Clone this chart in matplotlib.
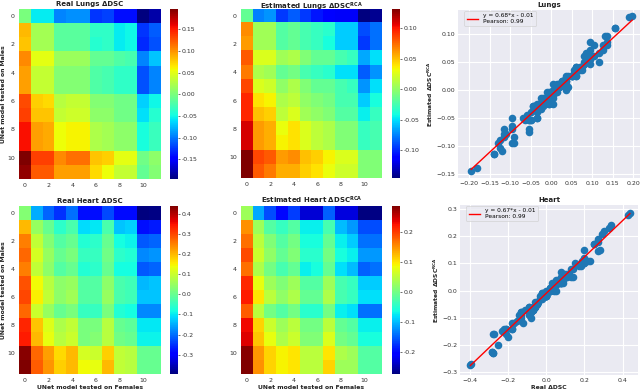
import numpy as np
import matplotlib
matplotlib.use("Agg")
import matplotlib.pyplot as plt

W, H = 640, 391

real_lungs = np.array([
    [0.00, -0.055, -0.055, -0.095, -0.09, -0.09, -0.125, -0.12, -0.14, -0.14, -0.195, -0.18],
    [0.085, 0.02, 0.02, -0.015, -0.015, -0.015, -0.035, -0.035, -0.055, -0.05, -0.125, -0.11],
    [0.08, 0.02, 0.02, -0.015, -0.015, -0.015, -0.04, -0.035, -0.055, -0.05, -0.13, -0.115],
    [0.105, 0.05, 0.05, 0.015, 0.015, 0.015, -0.01, -0.01, -0.02, -0.025, -0.095, -0.07],
    [0.095, 0.035, 0.035, 0.005, 0.005, 0.005, -0.02, -0.025, -0.035, -0.035, -0.115, -0.095],
    [0.095, 0.035, 0.035, 0.005, 0.005, 0.005, -0.02, -0.025, -0.035, -0.035, -0.115, -0.095],
    [0.13, 0.075, 0.07, 0.03, 0.035, 0.035, 0.005, 0.005, -0.005, -0.005, -0.065, -0.05],
    [0.135, 0.08, 0.08, 0.035, 0.04, 0.04, 0.01, 0.01, -0.005, -0.005, -0.06, -0.04],
    [0.155, 0.095, 0.09, 0.055, 0.06, 0.06, 0.025, 0.02, 0.01, 0.01, -0.045, -0.03],
    [0.155, 0.095, 0.09, 0.055, 0.06, 0.06, 0.025, 0.02, 0.01, 0.01, -0.045, -0.03],
    [0.197, 0.135, 0.135, 0.105, 0.115, 0.115, 0.08, 0.075, 0.05, 0.05, -0.005, 0.01],
    [0.19, 0.125, 0.125, 0.095, 0.095, 0.095, 0.07, 0.055, 0.035, 0.035, -0.01, 0.005],
])
est_lungs = np.array([
    [-0.015, -0.075, -0.07, -0.095, -0.085, -0.095, -0.105, -0.11, -0.115, -0.115, -0.145, -0.14],
    [0.065, 0.005, 0.005, -0.02, -0.015, -0.025, -0.03, -0.035, -0.055, -0.055, -0.09, -0.08],
    [0.06, 0.005, 0.005, -0.02, -0.015, -0.025, -0.03, -0.04, -0.055, -0.055, -0.095, -0.08],
    [0.08, 0.025, 0.025, 0.005, 0.01, -0.005, -0.015, -0.015, -0.025, -0.03, -0.065, -0.05],
    [0.07, 0.01, 0.005, -0.015, -0.01, -0.025, -0.03, -0.035, -0.05, -0.05, -0.085, -0.07],
    [0.085, 0.025, 0.02, 0.0, 0.01, -0.005, -0.015, -0.015, -0.025, -0.03, -0.07, -0.05],
    [0.095, 0.04, 0.035, 0.01, 0.015, 0.0, -0.005, -0.01, -0.025, -0.025, -0.055, -0.04],
    [0.095, 0.05, 0.045, 0.015, 0.025, 0.005, 0.0, -0.005, -0.02, -0.02, -0.045, -0.03],
    [0.11, 0.06, 0.055, 0.03, 0.04, 0.025, 0.015, 0.01, -0.005, -0.005, -0.03, -0.025],
    [0.11, 0.06, 0.055, 0.035, 0.04, 0.025, 0.015, 0.01, -0.005, -0.005, -0.03, -0.025],
    [0.131, 0.085, 0.08, 0.06, 0.065, 0.05, 0.045, 0.035, 0.025, 0.025, -0.005, -0.005],
    [0.13, 0.08, 0.07, 0.055, 0.055, 0.045, 0.04, 0.03, 0.02, 0.02, -0.005, -0.005],
])
real_heart = np.array([
    [0.03, -0.15, -0.21, -0.25, -0.2, -0.28, -0.28, -0.23, -0.285, -0.285, -0.396, -0.39],
    [0.2, 0.05, 0.0, -0.06, -0.03, -0.11, -0.1, -0.03, -0.13, -0.12, -0.28, -0.27],
    [0.25, 0.09, 0.03, -0.02, 0.0, -0.07, -0.06, 0.0, -0.08, -0.09, -0.22, -0.21],
    [0.27, 0.11, 0.05, 0.0, 0.02, -0.05, -0.05, 0.01, -0.06, -0.07, -0.18, -0.17],
    [0.25, 0.09, 0.04, -0.02, 0.0, -0.07, -0.06, 0.0, -0.08, -0.08, -0.22, -0.21],
    [0.29, 0.14, 0.08, 0.04, 0.05, -0.02, -0.02, 0.04, -0.03, -0.04, -0.14, -0.13],
    [0.3, 0.15, 0.09, 0.04, 0.06, -0.02, -0.02, 0.05, -0.03, -0.04, -0.13, -0.13],
    [0.27, 0.1, 0.05, 0.0, 0.02, -0.05, -0.05, 0.02, -0.07, -0.08, -0.18, -0.18],
    [0.33, 0.19, 0.12, 0.07, 0.09, 0.02, 0.02, 0.08, 0.0, -0.01, -0.1, -0.1],
    [0.34, 0.2, 0.13, 0.08, 0.1, 0.02, 0.03, 0.08, 0.01, 0.0, -0.09, -0.09],
    [0.43, 0.27, 0.22, 0.17, 0.2, 0.11, 0.1, 0.18, 0.09, 0.08, 0.0, 0.0],
    [0.438, 0.28, 0.23, 0.18, 0.2, 0.14, 0.13, 0.2, 0.09, 0.08, 0.0, 0.0],
])
est_heart = np.array([
    [0.03, -0.11, -0.16, -0.2, -0.17, -0.23, -0.23, -0.15, -0.225, -0.225, -0.273, -0.27],
    [0.15, 0.03, -0.02, -0.04, -0.02, -0.07, -0.07, -0.03, -0.1, -0.12, -0.16, -0.16],
    [0.17, 0.05, 0.01, -0.02, 0.0, -0.06, -0.06, -0.01, -0.07, -0.09, -0.14, -0.14],
    [0.19, 0.06, 0.02, -0.01, 0.01, -0.05, -0.05, 0.0, -0.06, -0.07, -0.12, -0.12],
    [0.17, 0.04, 0.0, -0.03, -0.01, -0.07, -0.06, -0.01, -0.08, -0.1, -0.15, -0.14],
    [0.21, 0.08, 0.03, 0.01, 0.03, -0.02, -0.02, 0.03, -0.03, -0.04, -0.09, -0.09],
    [0.22, 0.1, 0.05, 0.02, 0.04, -0.01, -0.01, 0.04, -0.03, -0.04, -0.08, -0.08],
    [0.18, 0.05, 0.0, -0.02, 0.0, -0.05, -0.05, 0.0, -0.07, -0.08, -0.14, -0.14],
    [0.23, 0.11, 0.06, 0.03, 0.05, 0.0, 0.0, 0.05, -0.01, -0.02, -0.07, -0.07],
    [0.24, 0.12, 0.08, 0.04, 0.06, 0.01, 0.01, 0.07, 0.0, -0.01, -0.06, -0.06],
    [0.28, 0.145, 0.11, 0.09, 0.1, 0.05, 0.05, 0.1, 0.04, 0.03, -0.02, -0.02],
    [0.286, 0.15, 0.11, 0.09, 0.1, 0.05, 0.05, 0.11, 0.03, 0.03, -0.02, -0.02],
])

cell_ticks = [0, 2, 4, 6, 8, 10]
lungs_real_cbar = [-0.15, -0.10, -0.05, 0.00, 0.05, 0.10, 0.15]
lungs_est_cbar = [-0.10, -0.05, 0.00, 0.05, 0.10]
heart_real_cbar = [-0.3, -0.2, -0.1, 0.0, 0.1, 0.2, 0.3, 0.4]
heart_est_cbar = [-0.2, -0.1, 0.0, 0.1, 0.2]
lungs_xticks = [-0.20, -0.15, -0.10, -0.05, 0.00, 0.05, 0.10, 0.15, 0.20]
lungs_yticks = [-0.15, -0.10, -0.05, 0.00, 0.05, 0.10]
heart_xticks = [-0.4, -0.2, 0.0, 0.2, 0.4]
heart_yticks = [-0.3, -0.2, -0.1, 0.0, 0.1, 0.2, 0.3]

EST_LABEL = r"Estimated $\mathbf{\Delta DSC^{RCA}}$"
TEXT = "#333333"


def px_axes(fig, left, top, right, bottom):
    # Axes placed by pixel edges, y measured from the top of the picture
    return fig.add_axes([left / W, 1 - bottom / H, (right - left) / W, (bottom - top) / H])


def draw_heatmap(fig, data, box, cbox, title, ticks, fmt, ylabel=None, xlabel=None, title_pad=2):
    ax = px_axes(fig, *box)
    im = ax.imshow(data, cmap="jet", aspect="auto", interpolation="nearest")
    ax.set_xticks(cell_ticks)
    ax.set_yticks(cell_ticks)
    ax.tick_params(length=0, labelsize=4.5, pad=3, labelcolor=TEXT)
    for s in ax.spines.values():
        s.set_visible(False)
    if title:
        ax.set_title(title, fontsize=5, fontweight="bold", pad=title_pad, color="#222222")
    if ylabel:
        ax.set_ylabel(ylabel, fontsize=4.4, fontweight="bold", labelpad=1, color="#222222")
    if xlabel:
        ax.set_xlabel(xlabel, fontsize=4.4, fontweight="bold", labelpad=1.5, color="#222222")
    cax = px_axes(fig, *cbox)
    cb = fig.colorbar(im, cax=cax, ticks=ticks, format=fmt)
    cb.ax.tick_params(labelsize=4.5, length=1.5, width=0.4, pad=1, labelcolor=TEXT)
    cb.outline.set_visible(False)


def draw_scatter(fig, real, est, box, title, a, b, label, xlim, ylim, xticks, yticks, fmt, xlabel=None):
    ax = px_axes(fig, *box)
    ax.set_facecolor("#EAEAF2")
    ax.grid(True, color="white", linewidth=0.8)
    ax.set_axisbelow(True)
    for s in ax.spines.values():
        s.set_visible(False)
    x = real.ravel()
    ax.scatter(x, est.ravel(), s=30, color="#1F77B4", linewidths=0, zorder=2)
    line_x = np.array([x.min(), x.max()])
    ax.plot(line_x, a * line_x + b, color="red", linewidth=1, zorder=3, label=label)
    ax.set_xlim(*xlim)
    ax.set_ylim(*ylim)
    ax.set_xticks(xticks)
    ax.set_yticks(yticks)
    ax.xaxis.set_major_formatter(fmt)
    ax.yaxis.set_major_formatter(fmt)
    ax.tick_params(length=0, labelsize=4.5, pad=2, labelcolor=TEXT)
    ax.set_title(title, fontsize=5, fontweight="bold", pad=2, color="#222222")
    ax.set_ylabel(EST_LABEL, fontsize=4.3, fontweight="bold", labelpad=1, color="#222222")
    if xlabel:
        ax.set_xlabel(xlabel, fontsize=4.4, fontweight="bold", labelpad=1.5, color="#222222")
    leg = ax.legend(loc="upper left", bbox_to_anchor=(0.035, 0.995), borderaxespad=0, fontsize=4.2,
                    frameon=True, facecolor="#EAEAF2", edgecolor="#CCCCCC", framealpha=0.8)
    leg.get_frame().set_linewidth(0.5)


def main():
    fig = plt.figure(figsize=(W / 100, H / 100), dpi=100)

    draw_heatmap(fig, real_lungs, (19, 9, 161, 179), (170, 9, 178, 179), "Real Lungs ΔDSC",
                 lungs_real_cbar, "%.2f", ylabel="UNet model tested on Males")
    draw_heatmap(fig, est_lungs, (241, 9, 382, 178), (392, 9, 400, 178), None, lungs_est_cbar, "%.2f")
    # Superscript sits right under the top edge, so this title hangs from the picture edge
    fig.text(311.5 / W, 1 - 0.5 / H, r"Estimated Lungs $\mathbf{\Delta DSC^{RCA}}$", fontsize=5,
             fontweight="bold", ha="center", va="top", color="#222222")
    draw_heatmap(fig, real_heart, (19, 206, 161, 374), (170, 206, 178, 374), "Real Heart ΔDSC",
                 heart_real_cbar, "%.1f", ylabel="UNet model tested on Males",
                 xlabel="UNet model tested on Females")
    draw_heatmap(fig, est_heart, (241, 206, 382, 374), (392, 206, 400, 374),
                 r"Estimated Heart $\mathbf{\Delta DSC^{RCA}}$", heart_est_cbar, "%.1f",
                 xlabel="UNet model tested on Females", title_pad=0.8)

    draw_scatter(fig, real_lungs, est_lungs, (458, 10, 640, 178), "Lungs", 0.68, -0.01,
                 "y = 0.68*x - 0.01\nPearson: 0.99", (-0.227, 0.216), (-0.158, 0.142),
                 lungs_xticks, lungs_yticks, "{x:.2f}")
    draw_scatter(fig, real_heart, est_heart, (460, 205, 638, 375), "Heart", 0.67, -0.01,
                 "y = 0.67*x - 0.01\nPearson: 0.99", (-0.45, 0.48), (-0.31, 0.315),
                 heart_xticks, heart_yticks, "{x:.1f}", xlabel="Real ΔDSC")

    fig.savefig("out.png", dpi=100)
    plt.close(fig)


if __name__ == "__main__":
    main()
